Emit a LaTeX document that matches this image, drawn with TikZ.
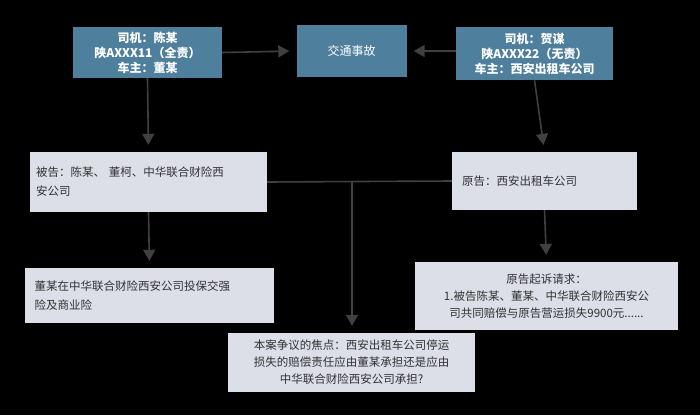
\documentclass[tikz,border=0pt]{standalone}
\usepackage{fontspec}
\newfontfamily\cjk{Noto Sans CJK SC}
\usetikzlibrary{arrows.meta}
\begin{document}
\begin{tikzpicture}[x=1pt,y=-1pt,
  teal/.style={fill=tealc,text=white,inner sep=0pt,align=center,font=\cjk\fontsize{12}{15}\selectfont},
  grey/.style={fill=greyc,text=textc,inner sep=0pt,font=\cjk\fontsize{11.5}{19}\selectfont},
  conn/.style={draw=linec,line width=1.6pt},
  arr/.style={conn,-{Triangle[length=11pt,width=12pt]},shorten >=7pt}]
\definecolor{tealc}{HTML}{4E7F9C}
\definecolor{greyc}{HTML}{DCDEE8}
\definecolor{textc}{HTML}{333333}
\definecolor{linec}{HTML}{404040}
\fill[black] (0,0) rectangle (700,415);
\useasboundingbox (0,0) rectangle (700,415);
\node[teal,minimum width=149pt,minimum height=51pt,font=\cjk\bfseries\fontsize{12}{15}\selectfont] (A) at (147.5,52.5) {司机：陈某\\陕AXXX11（全责）\\车主：董某};
\node[teal,minimum width=110pt,minimum height=52pt] (B) at (351.5,51) {交通事故};
\node[teal,minimum width=157pt,minimum height=53pt,font=\cjk\bfseries\fontsize{12}{15}\selectfont] (C) at (534.5,53.5) {司机：贺谋\\陕AXXX22（无责）\\车主：西安出租车公司};
\node[grey,minimum width=237pt,minimum height=60pt,text width=225pt,align=left] (D) at (148.5,182) {被告：陈某、 董柯、中华联合财险西\\安公司};
\node[grey,minimum width=185pt,minimum height=58pt,text width=165pt,align=left] (E) at (544.5,181) {原告：西安出租车公司\\[14pt]};
\node[grey,minimum width=249pt,minimum height=55pt,text width=230pt,align=left] (F) at (149.5,295.5) {董某在中华联合财险西安公司投保交强\\险及商业险};
\node[grey,minimum width=263pt,minimum height=68pt,align=center,font=\cjk\fontsize{11.5}{17}\selectfont] (G) at (546.5,296) {原告起诉请求：\\1.被告陈某、董某、中华联合财险西安公\\司共同赔偿与原告营运损失9900元......};
\node[grey,minimum width=247pt,minimum height=59pt,align=center,font=\cjk\fontsize{11.5}{17}\selectfont] (H) at (351.5,362.5) {本案争议的焦点：西安出租车公司停运\\损失的赔偿责任应由董某承担还是应由\\中华联合财险西安公司承担?};
\draw[arr] (A.east) -- (B.west);
\draw[arr] (C.west |- B) -- (B.east);
\draw[arr] (A.south) -- (D.north);
\draw[arr] (C.south) -- (E.north);
\draw[arr] (D.south) -- (F.north);
\draw[arr] (E.south) -- (G.north);
\draw[conn] (D.east) -- (E.west);
\coordinate (J) at (352,182);
\draw[arr] (J) -- (J |- H.north);
\end{tikzpicture}
\end{document}
